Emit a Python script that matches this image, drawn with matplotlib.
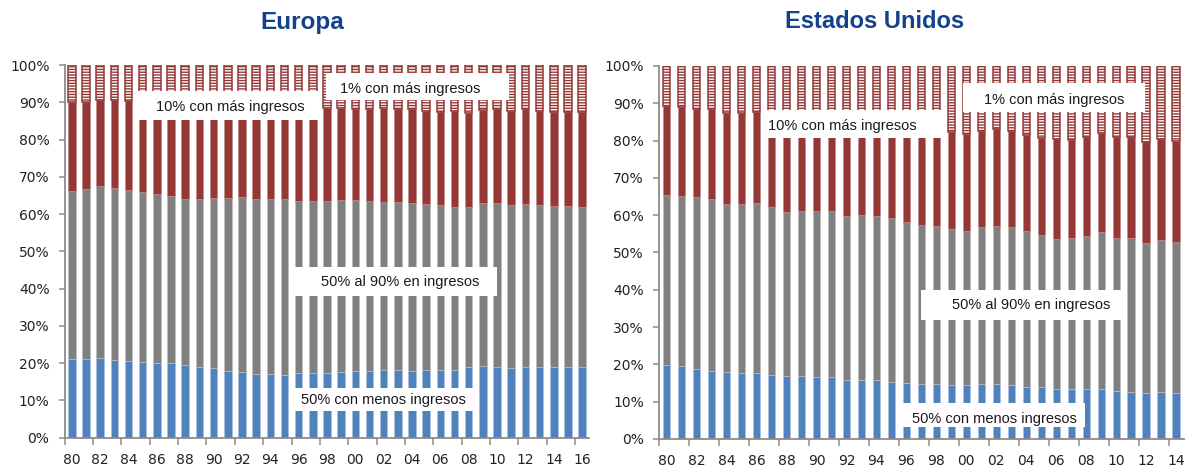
import numpy as np
import matplotlib
matplotlib.use('Agg')
import matplotlib.pyplot as plt
from matplotlib.patches import Rectangle

plt.rcParams['hatch.color'] = 'white'
plt.rcParams['hatch.linewidth'] = 1.0

# Datos (% del ingreso total)
anios_eu = list(range(1980, 2017))
anios_us = list(range(1980, 2015))

# Europa
eu_inf50 = [21.0, 21.0, 21.3, 20.8, 20.7, 20.4, 20.1, 20.0, 19.4, 19.1, 18.6, 18.0, 17.5, 17.2, 17.1, 16.9,
            17.3, 17.3, 17.4, 17.5, 17.8, 17.8, 18.2, 18.2, 18.0, 18.3, 18.3, 18.2, 18.9, 19.2, 18.9, 18.6,
            19.0, 19.0, 19.0, 19.0, 19.0]
eu_sup10 = [33.8, 33.4, 32.4, 32.9, 33.5, 34.2, 34.5, 35.2, 35.9, 36.0, 35.6, 35.8, 35.4, 36.0, 36.0, 36.0,
            36.4, 36.5, 36.5, 36.3, 36.3, 36.5, 36.7, 36.8, 37.1, 37.2, 37.5, 38.1, 38.1, 36.9, 37.0, 37.5,
            37.4, 37.6, 37.7, 37.9, 38.0]
eu_sup1 = [9.8, 9.8, 9.4, 9.4, 9.7, 10.1, 10.4, 10.7, 11.0, 11.2, 11.4, 11.5, 11.5, 11.5, 11.6, 11.6,
           11.6, 11.6, 11.6, 11.6, 11.8, 11.8, 11.6, 11.9, 11.9, 12.3, 12.5, 12.3, 12.8, 12.1, 11.9, 12.3,
           11.9, 12.3, 12.5, 12.5, 12.5]

# Estados Unidos
us_inf50 = [19.7, 19.5, 18.8, 18.1, 17.9, 17.8, 17.6, 17.1, 16.8, 16.8, 16.7, 16.5, 15.7, 15.7, 15.7, 15.3,
            14.9, 14.7, 14.8, 14.6, 14.4, 14.8, 14.7, 14.4, 14.0, 13.8, 13.3, 13.5, 13.5, 13.3, 12.9, 12.6,
            12.2, 12.7, 12.4]
us_sup10 = [34.6, 34.9, 35.2, 35.7, 37.0, 37.0, 36.7, 37.9, 39.1, 39.0, 38.9, 38.8, 40.1, 39.9, 40.2, 40.8,
            41.8, 42.6, 42.9, 43.6, 44.2, 43.1, 43.0, 43.2, 44.2, 45.3, 46.3, 46.1, 45.6, 44.5, 46.0, 46.2,
            47.5, 46.6, 47.3]
us_sup1 = [10.7, 11.1, 11.4, 11.6, 12.5, 12.5, 12.3, 12.8, 14.0, 13.6, 13.6, 13.1, 14.0, 13.6, 13.7, 14.2,
           15.0, 16.0, 16.5, 17.7, 18.2, 17.3, 17.0, 17.5, 18.4, 19.3, 19.7, 19.8, 19.0, 18.0, 19.0, 19.0,
           20.4, 19.6, 20.2]

etiquetas = ['1% con más ingresos', '10% con más ingresos', '50% al 90% en ingresos', '50% con menos ingresos']

# Colores
azul = '#4F81BD'
gris = '#808080'
rojo = '#953735'
eje = '#8C8C8C'
titulo_color = '#14418C'


def dibujar(ax, anios, inf50, sup10, sup1, ancho, cajas):
    x = np.arange(len(anios))
    inf50 = np.array(inf50)
    sup10 = np.array(sup10)
    sup1 = np.array(sup1)
    medio = 100 - inf50 - sup10
    resto10 = sup10 - sup1

    ax.bar(x, inf50, width=ancho, color=azul, edgecolor='#A9C1DF', linewidth=0.5, zorder=2)
    ax.bar(x, medio, bottom=inf50, width=ancho, color=gris, edgecolor='#BDBDBD', linewidth=0.5, zorder=2)
    ax.bar(x, resto10, bottom=inf50 + medio, width=ancho, color=rojo, edgecolor='#C08A88', linewidth=0.5, zorder=2)
    # top 1%: rayado blanco con borde rojo
    ax.bar(x, sup1, bottom=100 - sup1, width=ancho, color=rojo, hatch='------', linewidth=0, zorder=2)
    ax.bar(x, sup1, bottom=100 - sup1, width=ancho, fill=False, edgecolor=rojo, linewidth=1.1, zorder=2)

    # cajas blancas con los textos
    for texto, (x0, y0, x1, y1, tx, ty) in zip(etiquetas, cajas):
        ax.add_patch(Rectangle((x0, y0), x1 - x0, y1 - y0, facecolor='white', edgecolor='none', zorder=3))
        ax.text(tx, ty, texto, ha='center', va='center', fontsize=10.5, color='#1A1A1A',
                family=['Liberation Sans', 'DejaVu Sans'], zorder=4)

    ax.set_xlim(-0.5, len(x) - 0.5)
    ax.set_ylim(0, 100)
    ax.set_yticks(range(0, 101, 10))
    ax.set_yticklabels([f'{v}%' for v in range(0, 101, 10)])
    ax.set_xticks(x[::2])
    ax.set_xticklabels([f'{a % 100:02d}' for a in anios[::2]])
    ax.set_xticks(np.arange(-0.5, len(x) - 0.5, 2), minor=True)
    ax.tick_params(axis='x', which='major', length=0, pad=11, labelsize=10, labelcolor='#222222')
    ax.tick_params(axis='x', which='minor', length=5, color=eje, width=1.1)
    ax.tick_params(axis='y', length=4, color=eje, width=1.1, pad=7, labelsize=10, labelcolor='#222222')
    for lado in ['top', 'right']:
        ax.spines[lado].set_visible(False)
    for lado in ['left', 'bottom']:
        ax.spines[lado].set_color(eje)
        ax.spines[lado].set_linewidth(1.3)


fig = plt.figure(figsize=(11.86, 4.66), dpi=100)
ax1 = fig.add_axes([0.0546, 0.0607, 0.4422, 0.7998])
ax2 = fig.add_axes([0.5558, 0.058, 0.4421, 0.8004])

# (x0, y0, x1, y1, x texto, y texto) en coordenadas de datos
cajas_eu = [(17.9, 90.6, 30.85, 97.9, 23.9, 93.6),
            (4.67, 85.2, 17.66, 93.1, 11.2, 88.6),
            (15.5, 38.0, 30.0, 45.8, 23.2, 41.8),
            (15.7, 7.2, 28.45, 13.3, 22.0, 10.1)]
cajas_us = [(19.8, 87.7, 31.9, 95.4, 25.9, 90.9),
            (6.55, 80.7, 18.6, 88.2, 11.7, 83.9),
            (17.0, 31.9, 30.4, 39.9, 24.3, 35.9),
            (15.5, 3.2, 27.9, 9.7, 21.9, 5.4)]

dibujar(ax1, anios_eu, eu_inf50, eu_sup10, eu_sup1, 0.53, cajas_eu)
dibujar(ax2, anios_us, us_inf50, us_sup10, us_sup1, 0.48, cajas_us)

fuente_titulo = ['Liberation Sans Narrow', 'Liberation Sans', 'DejaVu Sans']
fig.text(302 / 1186, 1 - 22 / 466, 'Europa', ha='center', va='center', fontsize=17.5,
         fontweight='bold', color=titulo_color, family=fuente_titulo)
fig.text(875 / 1186, 1 - 22 / 466, 'Estados Unidos', ha='center', va='center', fontsize=17,
         fontweight='bold', color=titulo_color, family=fuente_titulo)

fig.savefig('out.png', dpi=100)
